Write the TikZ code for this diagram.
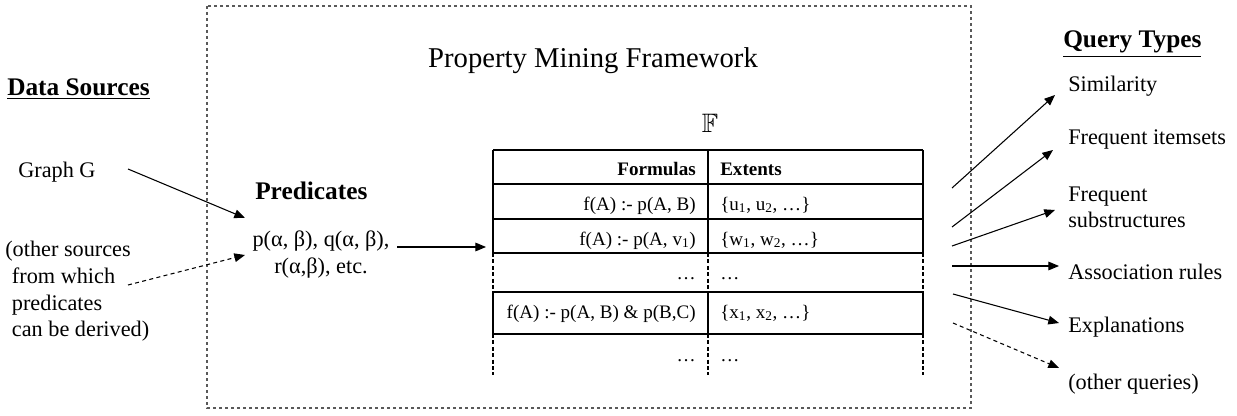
\documentclass[tikz,border=0pt]{standalone}
\usepackage{fontspec}
\setmainfont{Liberation Serif}
\usepackage{amssymb}
\usetikzlibrary{arrows.meta}
\begin{document}
\begin{tikzpicture}[x=0.75pt,y=-0.75pt,
  txt/.style={font=\fontsize{16.7}{20}\selectfont, inner sep=0},
  txtr/.style={font=\fontsize{16.7}{19}\selectfont, inner sep=0},
  hdr/.style={font=\bfseries\fontsize{19}{22}\selectfont, inner sep=0},
  tbl/.style={font=\fontsize{14.3}{17}\selectfont, inner sep=0},
  tblb/.style={font=\bfseries\fontsize{14.3}{17}\selectfont, inner sep=0},
  arr/.style={line width=0.8pt, -{Triangle[length=8pt,width=6.5pt]}},
  darr/.style={arr, dash pattern=on 3pt off 2.5pt},
  frame/.style={draw=black!65, line width=0.8pt, dash pattern=on 2.5pt off 2pt},
  grid/.style={line width=1pt},
  dgrid/.style={line width=0.8pt, dash pattern=on 3pt off 1.8pt}]
\useasboundingbox (0,0) rectangle (1237,416);

% framework box
\draw[frame] (207,6) rectangle (971,408);
\node[inner sep=0, font=\fontsize{21.5}{24}\selectfont] (title) at (593,61) {Property Mining Framework};

% left side
\node[hdr, anchor=mid west] (ds) at (7,92) {\underline{Data Sources}};
\node[txt, anchor=mid west] (gg) at (18,174) {Graph G};
\node[txt, anchor=north west, align=left] (os) at (5,241) {(other sources\\\hspace*{5pt}from which\\\hspace*{5pt}predicates\\\hspace*{5pt}can be derived)};

\node[hdr, anchor=mid west] (ph) at (255,196) {Predicates};
\node[txt, anchor=north, align=center] (pf) at (321,231) {p(α, β), q(α, β),\\r(α,β), etc.};

\coordinate (g1) at (128,169);
\coordinate (g2) at (245,218);
\coordinate (o1) at (128,285);
\coordinate (o2) at (245,255);
\draw[arr] (g1) -- (g2);
\draw[darr] (o1) -- (o2);

\coordinate (p1) at (397,247);
\coordinate (p2) at (486,247);
\draw[arr] (p1) -- (p2);

% F
\node[inner sep=0, font=\fontsize{20}{22}\selectfont] (F) at (710,123) {$\mathbb{F}$};

% table
\draw[grid] (493,150) -- (923,150);
\draw[grid] (493,184) -- (923,184);
\draw[grid] (493,219) -- (923,219);
\draw[grid] (493,253) -- (923,253);
\draw[grid] (493,292) -- (923,292);
\draw[grid] (493,334) -- (923,334);
\foreach \x in {493,708,923} {
  \draw[grid] (\x,150) -- (\x,253);
  \draw[grid] (\x,292) -- (\x,334);
  \draw[dgrid] (\x,253) -- (\x,292);
  \draw[dgrid] (\x,334) -- (\x,375);
}
\node[tblb, anchor=mid east] (h1) at (696,172) {Formulas};
\node[tblb, anchor=mid west] (h2) at (720,172) {Extents};
\node[tbl, anchor=mid east] (f1) at (696,207) {f(A) :- p(A, B)};
\node[tbl, anchor=mid west] (e1) at (720,207) {\{u\textsubscript{1}, u\textsubscript{2}, …\}};
\node[tbl, anchor=mid east] (f2) at (696,242) {f(A) :- p(A, v\textsubscript{1})};
\node[tbl, anchor=mid west] (e2) at (720,242) {\{w\textsubscript{1}, w\textsubscript{2}, …\}};
\node[tbl, anchor=mid east] (f3) at (696,276) {…};
\node[tbl, anchor=mid west] (e3) at (720,276) {…};
\node[tbl, anchor=mid east] (f4) at (696,315) {f(A) :- p(A, B) \& p(B,C)};
\node[tbl, anchor=mid west] (e4) at (720,315) {\{x\textsubscript{1}, x\textsubscript{2}, …\}};
\node[tbl, anchor=mid east] (f5) at (696,358) {…};
\node[tbl, anchor=mid west] (e5) at (720,358) {…};

% right side
\node[hdr, anchor=mid west] (qt) at (1063,44) {\underline{Query Types}};
\node[txt, anchor=mid west] (q1) at (1068,88) {Similarity};
\node[txt, anchor=mid west] (q2) at (1068,141) {Frequent itemsets};
\node[txtr, anchor=north west, align=left] (q3) at (1068,187) {Frequent\\substructures};
\node[txt, anchor=mid west] (q4) at (1068,276) {Association rules};
\node[txt, anchor=mid west] (q5) at (1068,329) {Explanations};
\node[txt, anchor=mid west] (q6) at (1068,386) {(other queries)};

\coordinate (s1) at (952,188);  \coordinate (t1) at (1055,95);
\coordinate (s2) at (952,227);  \coordinate (t2) at (1053,150);
\coordinate (s3) at (952,246);  \coordinate (t3) at (1055,210);
\coordinate (s4) at (952,266);  \coordinate (t4) at (1059,266);
\coordinate (s5) at (953,294);  \coordinate (t5) at (1059,323);
\coordinate (s6) at (953,323);  \coordinate (t6) at (1059,368);
\draw[arr] (s1) -- (t1);
\draw[arr] (s2) -- (t2);
\draw[arr] (s3) -- (t3);
\draw[arr] (s4) -- (t4);
\draw[arr] (s5) -- (t5);
\draw[darr] (s6) -- (t6);
\end{tikzpicture}
\end{document}
